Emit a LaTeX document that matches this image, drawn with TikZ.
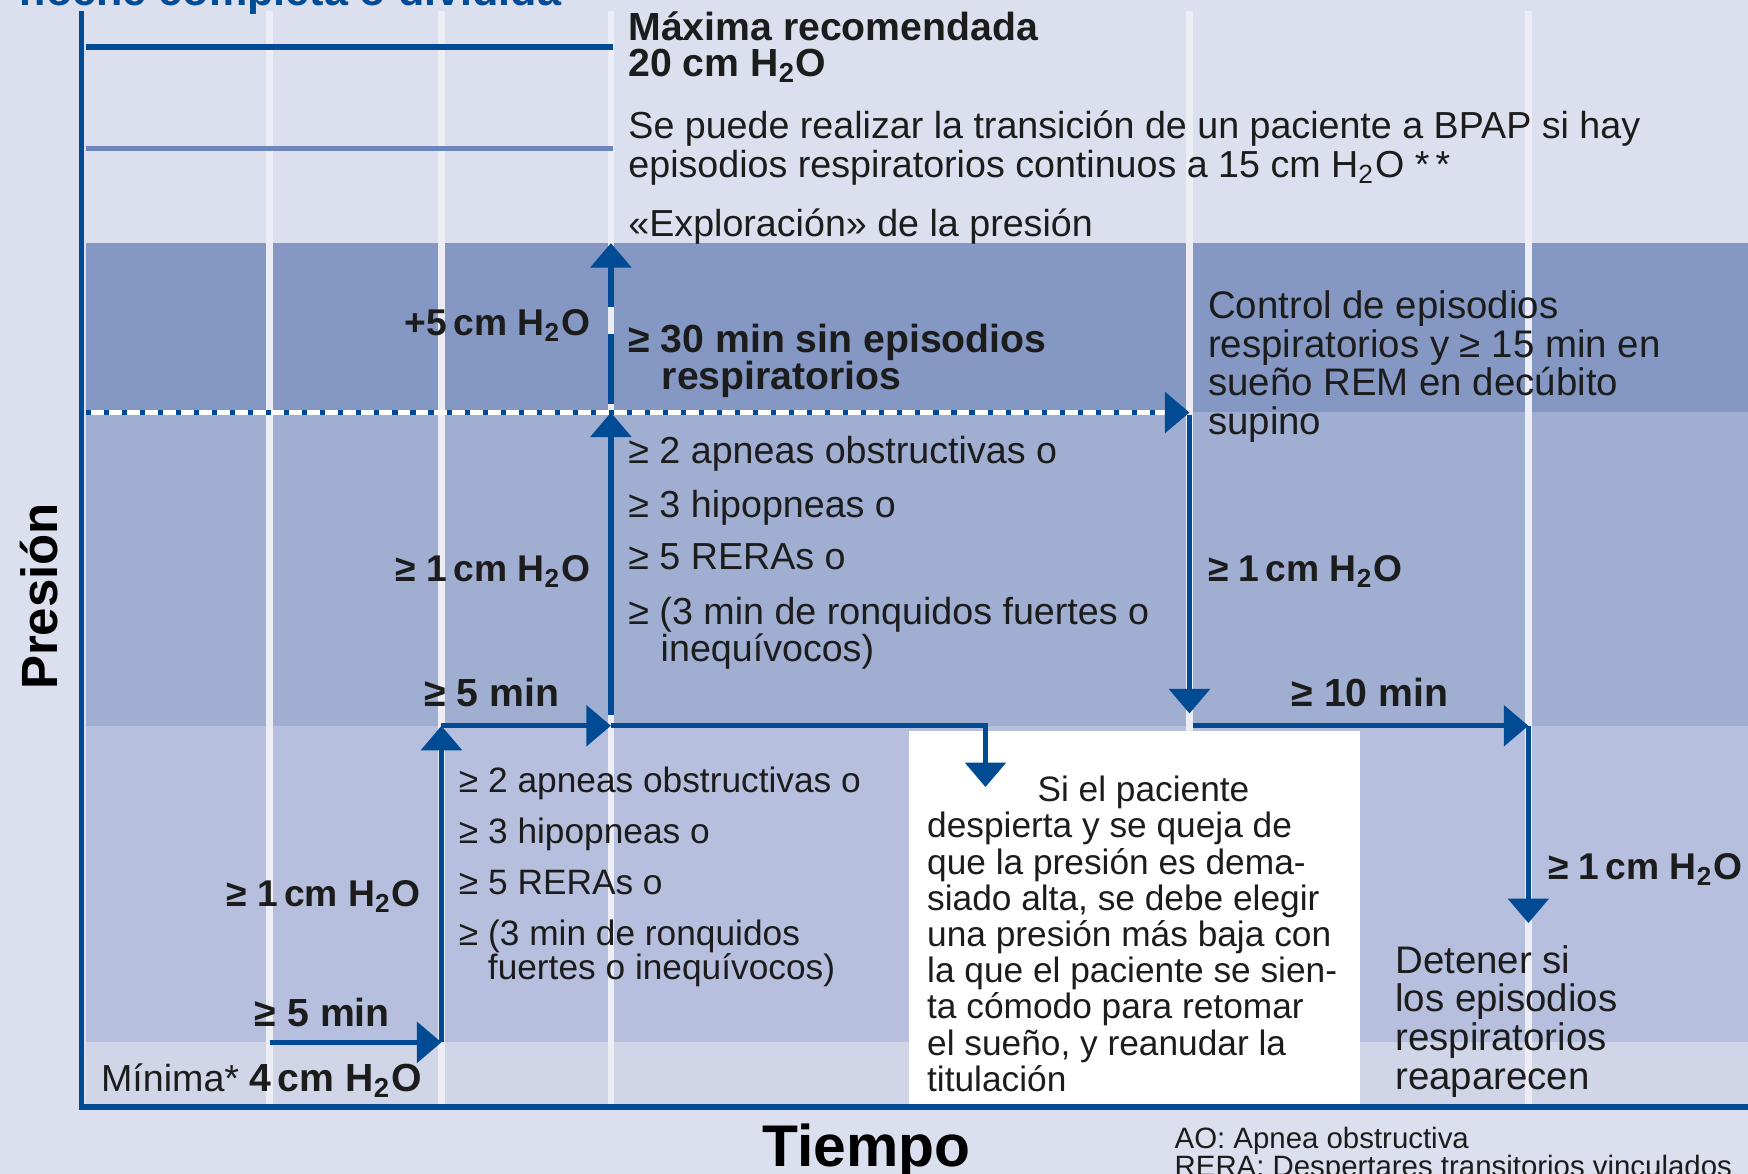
\documentclass[tikz,border=0pt]{standalone}
\usepackage{fontspec}
\setmainfont{Liberation Sans}
\usetikzlibrary{arrows.meta}

\definecolor{bgpale}{HTML}{DCDFED}
\definecolor{bandtop}{HTML}{8598C4}
\definecolor{bandmid}{HTML}{A0AED1}
\definecolor{bandlow}{HTML}{B6C0DE}
\definecolor{bandmin}{HTML}{D0D5E8}
\definecolor{gridwhite}{HTML}{ECEDF5}
\definecolor{dkblue}{HTML}{004B93}
\definecolor{midblue}{HTML}{6D87BC}
\definecolor{inkgray}{HTML}{1C1C1C}

\newcommand{\water}{H\textsubscript{2}O}

\begin{document}
\begin{tikzpicture}[x=0.01cm, y=-0.01cm, inkgray,
  every node/.style={inner sep=0pt},
  txt/.style={anchor=base west, font=\fontsize{9.6}{10}\selectfont},
  smalltxt/.style={anchor=base west, font=\fontsize{9}{10}\selectfont},
  bigtxt/.style={anchor=base west, font=\fontsize{9.8}{10}\selectfont},
  lbl/.style={font=\fontsize{10}{11}\selectfont\bfseries},
  cmlbl/.style={font=\fontsize{9.5}{11}\selectfont\bfseries},
  flow/.style={draw=dkblue, line width=1.4pt, -{Triangle[width=3.6mm,length=2.2mm]}},
  gridline/.style={draw=gridwhite, line width=1.7pt}]

  \useasboundingbox (0,0) rectangle (1568,1053);
  \clip (0,0) rectangle (1568,1053);

    %----------------------------------------------------------
    % Background, bands and grid
    %----------------------------------------------------------
  \fill[bgpale] (0,0) rectangle (1568,1053);
  \fill[bandtop] (77,218) rectangle (1568,370);
  \fill[bandmid] (77,370) rectangle (1568,651);
  \fill[bandlow] (77,651) rectangle (1568,935);
  \fill[bandmin] (77,935) rectangle (1568,990);

  \foreach \gx in {242,396,548,1067,1371}
    \draw[gridline] (\gx,10) -- (\gx,990);

  % white box for the note
  \fill[white] (815,656) rectangle (1220,990);

  % axes
  \draw[dkblue, line width=1.45pt] (73,10) |- (1568,993);

  % maximum and BPAP lines
  \draw[dkblue, line width=1.6pt] (77,42) -- (550,42);
  \draw[midblue, line width=1.4pt] (77,133) -- (550,133);

    %----------------------------------------------------------
    % Defining coordinates
    %----------------------------------------------------------
  \coordinate (m0) at (242,935);
  \coordinate (m1) at (396,935);
  \coordinate (m2) at (396,651);
  \coordinate (m3) at (548,651);
  \coordinate (m4) at (548,641);
  \coordinate (m5) at (548,370);
  \coordinate (u0) at (548,362);
  \coordinate (u1) at (548,300);
  \coordinate (u2) at (548,275);
  \coordinate (u3) at (548,218);
  \coordinate (d0) at (77,370);
  \coordinate (d1) at (1067,370);
  \coordinate (r0) at (1067,372);
  \coordinate (r1) at (1067,640);
  \coordinate (r2) at (1070,651);
  \coordinate (r3) at (1371,651);
  \coordinate (r4) at (1371,828);
  \coordinate (c1) at (884,651);
  \coordinate (c2) at (884,706);

    %----------------------------------------------------------
    % Drawing the steps
    %----------------------------------------------------------
  \draw[flow] (m0) -- (m1);
  \draw[flow] (m1) -- (m2);
  \draw[flow] (m2) -- (m3);
  \draw[flow] (m4) -- (m5);
  \draw[dkblue, line width=1.4pt] (u0) -- (u1);
  \draw[flow] (u2) -- (u3);

  % dotted exploration line
  \draw[white, line width=1.3pt] (d0) -- (1050,370);
  \draw[flow, dash pattern=on 1.3pt off 3.3pt] (d0) -- (d1);

  \draw[flow] (r0) -- (r1);
  \draw[flow] (r2) -- (r3);
  \draw[flow] (r3) -- (r4);
  \draw[flow] (m3) -- (c1) -- (c2);

    %----------------------------------------------------------
    % Texts
    %----------------------------------------------------------
  \node[anchor=base west, font=\fontsize{11}{12}\selectfont\bfseries, dkblue] (title) at (17,5) {noche completa o dividida};

  \node[lbl, anchor=base west] (maxrec) at (563,36) {Máxima recomendada};
  \node[lbl, anchor=base west] (maxval) at (563,69) {20 cm \water};
  \node[txt] (bpapa) at (563,124) {Se puede realizar la transición de un paciente a BPAP si hay};
  \node[txt] (bpapb) at (563,159) {episodios respiratorios continuos a 15 cm \water\ *\,*};
  \node[txt] (explo) at (563,212) {«Exploración» de la presión};

  \node[cmlbl, anchor=base east] (plusfive) at (530,301) {+5\,cm \water};
  \node[lbl, anchor=base west] (thirtya) at (563,316) {≥ 30 min sin episodios};
  \node[lbl, anchor=base west] (thirtyb) at (593,349) {respiratorios};

  \foreach \ln [count=\i from 0] in {Control de episodios, respiratorios y ≥ 15 min en, sueño REM en decúbito, supino}
    \node[bigtxt] (ctrl\i) at (1083,286+34.5*\i) {\ln};

  \node[txt] (upa) at (563,416) {≥ 2 apneas obstructivas o};
  \node[txt] (upb) at (563,464) {≥ 3 hipopneas o};
  \node[txt] (upc) at (563,511) {≥ 5 RERAs o};
  \node[txt] (upd) at (563,560) {≥ (3 min de ronquidos fuertes o};
  \node[txt] (upe) at (592,593) {inequívocos)};

  \node[cmlbl, anchor=base east] (oneup) at (530,522) {≥ 1\,cm \water};
  \node[cmlbl, anchor=base west] (onedown) at (1083,522) {≥ 1\,cm \water};
  \node[lbl, anchor=base west] (fiveup) at (380,634) {≥ 5 min};
  \node[lbl, anchor=base west] (tenmin) at (1158,634) {≥ 10 min};

  \node[smalltxt] (lowa) at (411,711) {≥ 2 apneas obstructivas o};
  \node[smalltxt] (lowb) at (411,757) {≥ 3 hipopneas o};
  \node[smalltxt] (lowc) at (411,802) {≥ 5 RERAs o};
  \node[smalltxt] (lowd) at (411,848) {≥ (3 min de ronquidos};
  \node[smalltxt] (lowe) at (437,879) {fuertes o inequívocos)};

  \node[cmlbl, anchor=base east] (onelow) at (378,813) {≥ 1\,cm \water};
  \node[lbl, anchor=base west] (fivelow) at (228,921) {≥ 5 min};
  \node[txt] (minlbl) at (90,979) {Mínima* \textbf{\fontsize{10}{11}\selectfont 4\,cm \water}};

  \node[smalltxt] (note0) at (930,719) {Si el paciente};
  \foreach \ln [count=\i] in {despierta y se queja de, que la presión es dema-, {siado alta, se debe elegir}, una presión más baja con, la que el paciente se sien-, ta cómodo para retomar, {el sueño, y reanudar la}, titulación}
    \node[smalltxt] (note\i) at (831,719+32.5*\i) {\ln};

  \node[cmlbl, anchor=base west] (oneright) at (1388,789) {≥ 1\,cm \water};
  \foreach \ln [count=\i from 0] in {Detener si, los episodios, respiratorios, reaparecen}
    \node[bigtxt] (stop\i) at (1251,873+34.7*\i) {\ln};

  \node[anchor=base, rotate=90, font=\fontsize{13}{14}\selectfont\bfseries, black] (ylabel) at (52,535) {Presión};
  \node[anchor=base, font=\fontsize{15}{16}\selectfont\bfseries, black] (xlabel) at (777,1046) {Tiempo};

  \node[anchor=base west, font=\fontsize{7.5}{8}\selectfont] (fnao) at (1053,1030) {AO: Apnea obstructiva};
  \node[anchor=base west, font=\fontsize{7.5}{8}\selectfont] (fnrera) at (1053,1055) {RERA: Despertares transitorios vinculados};
\end{tikzpicture}
\end{document}
